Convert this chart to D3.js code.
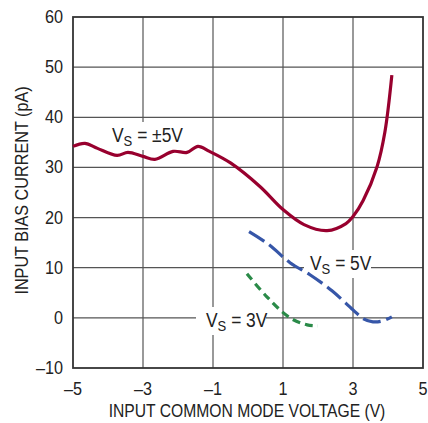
<!DOCTYPE html>
<html>
<head>
<meta charset="utf-8">
<script src="https://cdn.jsdelivr.net/npm/d3@7"></script>
<style>
  body { margin: 0; background: #fff; }
  text { font-family: "Liberation Sans", Arial, sans-serif; fill: #222; }
</style>
</head>
<body>
<svg id="chart"></svg>
<script>
// curve data
const vs5dualX = [-5, -4.66, -4.3, -3.74, -3.43, -3.0, -2.66, -2.14, -1.74, -1.43, -1.1, -0.5, 0.34, 1.0, 1.6, 2.26, 2.8, 3.0, 3.29, 3.69, 3.91, 4.11];
const vs5dualY = [34.2, 34.8, 33.8, 32.4, 33.0, 32.2, 31.6, 33.2, 33.0, 34.2, 33.2, 30.9, 26.2, 21.6, 18.6, 17.4, 18.8, 20.2, 23.4, 30.2, 37, 48.4];
const vs5X = [0.03, 0.6, 1.2, 1.77, 2.4, 3.0, 3.3, 3.57, 3.85, 4.11];
const vs5Y = [17.2, 14.6, 11.0, 8.6, 5.4, 1.6, -0.2, -0.8, -0.6, 0.2];
const vs3X = [-0.03, 0.54, 1.2, 1.69, 2.0];
const vs3Y = [8.8, 4.2, 0.0, -1.4, -1.6];
const xTicks = [-5, -3, -1, 1, 3, 5];
const yTicks = [-10, 0, 10, 20, 30, 40, 50, 60];

const width = 428, height = 423;
const margin = { top: 17, right: 5, bottom: 55, left: 73 };

const svg = d3.select("#chart").attr("width", width).attr("height", height);

const x = d3.scaleLinear().domain([-5, 5]).range([margin.left, width - margin.right]);
const y = d3.scaleLinear().domain([-10, 60]).range([height - margin.bottom, margin.top]);

// condensed look: squeeze plain text horizontally
function squeeze(sel, k) {
  sel.each(function () {
    const w = this.getComputedTextLength();
    d3.select(this).attr("textLength", w * k).attr("lengthAdjust", "spacingAndGlyphs");
  });
}

// grid
svg.append("g")
  .selectAll("line.v")
  .data(xTicks.slice(1, -1))
  .enter()
  .append("line")
  .attr("x1", d => x(d)).attr("x2", d => x(d))
  .attr("y1", y(60)).attr("y2", y(-10))
  .attr("stroke", "#555").attr("stroke-width", 1.2);

svg.append("g")
  .selectAll("line.h")
  .data(yTicks.slice(1, -1))
  .enter()
  .append("line")
  .attr("x1", x(-5)).attr("x2", x(5))
  .attr("y1", d => y(d)).attr("y2", d => y(d))
  .attr("stroke", "#555").attr("stroke-width", 1.2);

// frame
svg.append("rect")
  .attr("x", x(-5)).attr("y", y(60))
  .attr("width", x(5) - x(-5)).attr("height", y(-10) - y(60))
  .attr("fill", "none").attr("stroke", "#333").attr("stroke-width", 1.8);

// tick labels
svg.append("g")
  .selectAll("text")
  .data(xTicks)
  .enter()
  .append("text")
  .attr("x", d => x(d)).attr("y", y(-10) + 27)
  .attr("text-anchor", "middle")
  .attr("font-size", 18)
  .text(d => d < 0 ? "\u2013" + Math.abs(d) : d)
  .call(squeeze, 0.9);

svg.append("g")
  .selectAll("text")
  .data(yTicks)
  .enter()
  .append("text")
  .attr("x", x(-5) - 10).attr("y", d => y(d) + 6)
  .attr("text-anchor", "end")
  .attr("font-size", 18)
  .text(d => d < 0 ? "\u2013" + Math.abs(d) : d)
  .call(squeeze, 0.9);

// axis titles
svg.append("text")
  .attr("x", (x(-5) + x(5)) / 2 - 1).attr("y", height - 6)
  .attr("text-anchor", "middle")
  .attr("font-size", 18)
  .text("INPUT COMMON MODE VOLTAGE (V)")
  .call(squeeze, 0.87);

svg.append("text")
  .attr("transform", `translate(28,${(y(60) + y(-10)) / 2 - 2}) rotate(-90)`)
  .attr("text-anchor", "middle")
  .attr("font-size", 18)
  .text("INPUT BIAS CURRENT (pA)")
  .call(squeeze, 0.9);

// labels with white boxes over the grid
function label(px, py, value, boxL, boxR) {
  svg.append("rect")
    .attr("x", boxL).attr("y", py - 20)
    .attr("width", boxR - boxL).attr("height", 28)
    .attr("fill", "#fff");
  const t = svg.append("g")
    .attr("transform", `translate(${px},${py}) scale(0.87,1)`)
    .append("text").attr("font-size", 20);
  t.append("tspan").text("V");
  t.append("tspan").attr("dy", 4).attr("font-size", 15).text("S");
  t.append("tspan").attr("dy", -4).text(" = " + value);
}
label(112, 142, "\u00b15V", 106, 184);
label(310, 270, "5V", 304, 371);
label(206, 327, "3V", 196, 266);

// curves
const line = d3.line()
  .x(d => x(d[0]))
  .y(d => y(d[1]))
  .curve(d3.curveCatmullRom.alpha(0.5));

svg.append("path")
  .datum(vs5dualX.map((v, i) => [v, vs5dualY[i]]))
  .attr("d", line)
  .attr("fill", "none")
  .attr("stroke", "#98002e")
  .attr("stroke-width", 3.2);

svg.append("path")
  .datum(vs5X.map((v, i) => [v, vs5Y[i]]))
  .attr("d", line)
  .attr("fill", "none")
  .attr("stroke", "#3656a8")
  .attr("stroke-width", 3.2)
  .attr("stroke-dasharray", "18,6");

svg.append("path")
  .datum(vs3X.map((v, i) => [v, vs3Y[i]]))
  .attr("d", line)
  .attr("fill", "none")
  .attr("stroke", "#2a8a48")
  .attr("stroke-width", 3.2)
  .attr("stroke-dasharray", "8,5");
</script>
</body>
</html>
